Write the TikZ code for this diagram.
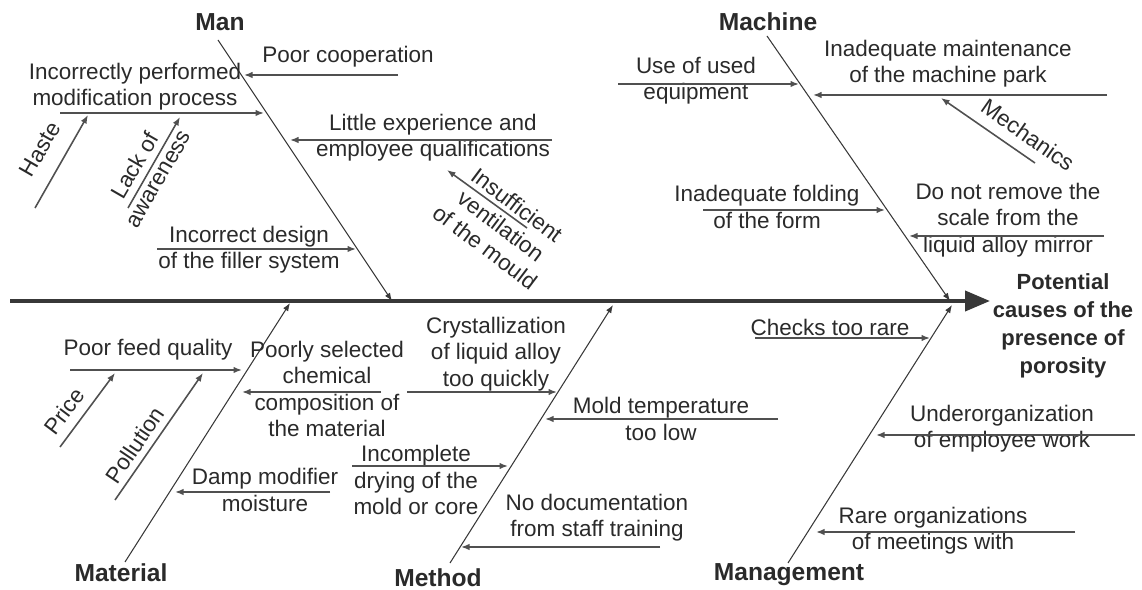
\documentclass[tikz,border=0pt]{standalone}
\usepackage{fontspec}
\setmainfont{Liberation Sans}
\usepackage{xcolor}
\usepackage{tikz}
\usetikzlibrary{arrows.meta, calc}
\definecolor{boneline}{HTML}{383838}
\definecolor{causeline}{HTML}{505050}
\definecolor{inktext}{HTML}{2a2a2a}

\begin{document}
\begin{tikzpicture}[
  x=0.02cm, y=-0.02cm,
  font=\fontsize{12.8}{15}\selectfont,
  txt/.style={inner sep=0pt, align=center, text=inktext},
  cat/.style={inner sep=0pt, font=\fontsize{14}{16}\selectfont\bfseries, text=inktext},
  spine/.style={-{Triangle[length=5mm,width=4mm]}, line width=2.3pt, boneline},
  bone/.style={-{Latex[length=1.6mm,width=1.2mm]}, line width=0.6pt, boneline},
  cause/.style={-{Latex[length=1.7mm,width=1.3mm]}, line width=0.9pt, causeline}]
\useasboundingbox (0,0) rectangle (1142,590);

% spine and effect
\coordinate (tail) at (10,301);
\coordinate (head) at (990,301);
\draw[spine] (tail)--(head);
\node[txt, font=\fontsize{12.5}{16}\selectfont\bfseries] (effect) at (1063,326)
  {Potential\\causes of the\\presence of\\porosity};

% main bones
\foreach \nm/\lbl/\lx/\ly/\ax/\ay/\bx/\by in
  {man/Man/220/22/218/40/392/301, mach/Machine/768/22/767/36/950/301,
   mat/Material/121/573/125/562/290/303, meth/Method/438/578/450/563/613/305,
   mgmt/Management/789/575/788/563/952/305}
 {
  \node[cat] (\nm) at (\lx,\ly) {\lbl};
  \coordinate (\nm-a) at (\ax,\ay);
  \coordinate (\nm-b) at (\bx,\by);
  \draw[bone] (\nm-a)--(\nm-b);
 }

% causes
\node[txt] (coop) at (348,57) {Poor cooperation};
\node[txt] (modif) at (135,87) {Incorrectly performed\\modification process};
\node[txt] (exper) at (433,138) {Little experience and\\employee qualifications};
\node[txt] (filler) at (249,250) {Incorrect design\\of the filler system};
\node[txt, rotate=-37] (vent) at (501,226) {Insufficient\\ventilation\\of the mould};
\node[txt, rotate=60] (haste) at (40,149) {Haste};
\node[txt, rotate=60] (aware) at (146,172) {Lack of\\awareness};

\node[txt] (used) at (696,81) {Use of used\\equipment};
\node[txt] (maint) at (948,64) {Inadequate maintenance\\of the machine park};
\node[txt, rotate=-35] (mech) at (1028,135) {Mechanics};
\node[txt] (fold) at (767,207) {Inadequate folding\\of the form};
\node[txt] (scale) at (1008,220) {Do not remove the\\scale from the\\liquid alloy mirror};

\node[txt] (feed) at (148,350) {Poor feed quality};
\node[txt, rotate=53] (price) at (64,411) {Price};
\node[txt, rotate=56] (pollu) at (135,445) {Pollution};
\node[txt] (chem) at (327,389) {Poorly selected\\chemical\\composition of\\the material};
\node[txt] (damp) at (265,490) {Damp modifier\\moisture};

\node[txt] (cryst) at (496,354) {Crystallization\\of liquid alloy\\too quickly};
\node[txt] (mold) at (661,419) {Mold temperature\\too low};
\node[txt] (dry) at (416,480) {Incomplete\\drying of the\\mold or core};
\node[txt] (doc) at (597,518) {No documentation\\from staff training};

\node[txt] (check) at (830,327) {Checks too rare};
\node[txt] (under) at (1002,429) {Underorganization\\of employee work};
\node[txt] (meet) at (933,531) {Rare organizations\\of meetings with};

\foreach \c/\tx/\ty/\hx/\hy in
  {coop/398/75/244/75, modif/60/113/264/113, exper/552/140/290/140,
   filler/157/249/356/249, vent/527/228/447/170, haste/35/208/88/115,
   aware/128/208/180/117,
   used/618/84/799/84, maint/1107/95/813/95, mech/1035/163/941/98,
   fold/703/210/885/210, scale/1104/236/909/236,
   feed/70/370/242/370, price/60/447/115/373, pollu/115/500/203/373,
   chem/381/392/242/392, damp/330/492/175/492,
   cryst/407/392/557/392, mold/778/419/545/419, dry/352/466/508/466,
   doc/660/547/461/547,
   check/755/338/930/338, under/1135/435/876/435, meet/1075/532/816/532}
 {
  \coordinate (\c-t) at (\tx,\ty);
  \coordinate (\c-h) at (\hx,\hy);
  \draw[cause] (\c-t)--(\c-h);
 }
\end{tikzpicture}
\end{document}
